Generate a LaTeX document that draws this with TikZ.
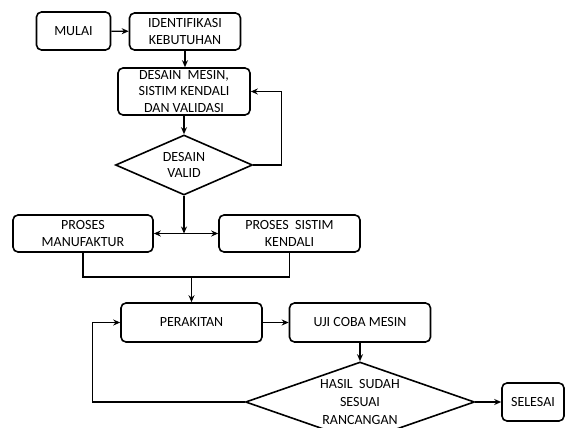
\documentclass[tikz,border=0pt]{standalone}
\usepackage{fontspec}
\setmainfont{Carlito}
\usetikzlibrary{arrows, arrows.meta}
\usetikzlibrary{calc}
\usetikzlibrary{shapes.geometric}

\begin{document}
\begin{tikzpicture}[x=1pt, y=-1pt,
    font=\fontsize{14}{16.5}\selectfont,
    proc/.style={rectangle, rounded corners=5pt, draw, line width=1.6pt, align=center, inner sep=0pt},
    dec/.style={diamond, draw, line width=1.6pt, align=center, inner sep=0pt},
    flow/.style={line width=1.2pt, -{Stealth[length=7pt, width=6pt]}}]
      \useasboundingbox (0,0) rectangle (568,428);

      \node[proc, minimum width=74pt, minimum height=38pt] (mulai) at (73.5,31) {MULAI};
      \node[proc, minimum width=111pt, minimum height=37pt] (ident) at (185,31.5) {IDENTIFIKASI\\KEBUTUHAN};
      \node[proc, minimum width=132pt, minimum height=47pt] (desain) at (184,91.5) {DESAIN\ \ MESIN,\\SISTIM KENDALI\\DAN VALIDASI};
      \node[dec, minimum width=137pt, minimum height=60pt, aspect=2.28] (valid) at (184,165) {DESAIN\\VALID};

      \node[proc, minimum width=140pt, minimum height=37pt] (manuf) at (83,233.5) {PROSES\\MANUFAKTUR};
      \node[proc, minimum width=141pt, minimum height=37pt] (kendali) at (289.5,233.5) {PROSES\ \ SISTIM\\KENDALI};

      \node[proc, minimum width=141pt, minimum height=39pt] (rakit) at (191.5,322.5) {PERAKITAN};
      \node[proc, minimum width=141pt, minimum height=39pt] (uji) at (360,322.5) {UJI COBA MESIN};
      \node[dec, minimum width=229pt, minimum height=80pt, aspect=2.86, font=\fontsize{14}{18}\selectfont] (hasil) at (360,402) {HASIL\ \ SUDAH\\SESUAI\\RANCANGAN};
      \node[proc, minimum width=62pt, minimum height=38pt] (selesai) at (533,402) {SELESAI};

      \coordinate (bagi) at (184,233.5);
      \coordinate (gabung) at (191.5,277);

      \draw[flow] (mulai) -- (ident);
      \draw[flow] (ident.south) -- (ident.south |- desain.north);
      \draw[flow] (desain) -- (valid);
      \draw[flow] (valid.east) -- ++(28,0) |- (desain.east);
      \draw[flow] (valid) -- (bagi);
      \draw[line width=1.2pt, {Stealth[length=7pt, width=6pt]}-{Stealth[length=7pt, width=6pt]}] (manuf) -- (kendali);

      \draw[line width=1.2pt] (manuf.south) |- (gabung) -| (kendali.south);
      \draw[flow] (gabung) -- (rakit);
      \draw[flow] (rakit) -- (uji);
      \draw[flow] (uji) -- (hasil);
      \draw[flow] (hasil.west) -- ++(-152,0) |- (rakit.west);
      \draw[flow] (hasil) -- (selesai);

\end{tikzpicture}
\end{document}
